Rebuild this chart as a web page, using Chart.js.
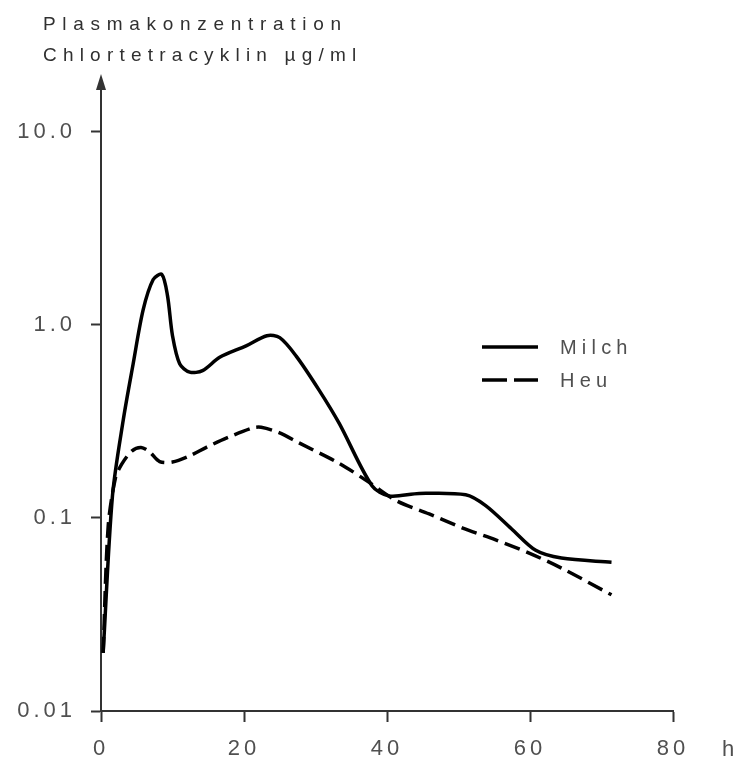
<!DOCTYPE html>
<html lang="de">
<head>
<meta charset="UTF-8">
<title>Plasmakonzentration Chlortetracyklin</title>
<script src="https://cdn.jsdelivr.net/npm/chart.js"></script>
<style>
    html, body {
        margin: 0;
        padding: 0;
        background: #ffffff;
        overflow: hidden;
    }
    #wrap {
        position: relative;
        width: 736px;
        height: 761px;
    }
</style>
</head>
<body>
<div id="wrap">
    <canvas id="chart" width="736" height="761"></canvas>
</div>

<script>
    // Werte (Zeit in h, Konzentration in µg/ml)
    const milchHours  = [0.3, 1.6, 3.1, 4.5, 5.9, 7.3, 8.5, 9.3, 10.0, 11.0, 12.4, 14.2, 16.6, 20.3, 23.2, 25.0, 27.3, 30.5, 33.3, 37.9, 40.3, 44.5, 51.0, 53.8, 57.4, 60.8, 64.4, 71.4];
    const milchValues = [0.02, 0.13, 0.32, 0.63, 1.2, 1.72, 1.83, 1.42, 0.88, 0.63, 0.57, 0.58, 0.68, 0.78, 0.88, 0.86, 0.69, 0.46, 0.31, 0.147, 0.13, 0.134, 0.132, 0.116, 0.088, 0.068, 0.062, 0.059];

    const heuHours  = [0.3, 1.0, 2.0, 2.9, 4.3, 5.6, 6.8, 8.2, 10.0, 12.4, 14.8, 17.6, 21.2, 22.4, 24.9, 27.7, 33.3, 37.5, 41.3, 45.9, 50.5, 55.2, 59.8, 64.4, 71.4];
    const heuValues = [0.02, 0.09, 0.16, 0.19, 0.222, 0.232, 0.22, 0.196, 0.195, 0.21, 0.233, 0.26, 0.293, 0.295, 0.277, 0.245, 0.192, 0.153, 0.123, 0.105, 0.089, 0.077, 0.066, 0.055, 0.04];

    const xTicks = [0, 20, 40, 60, 80];
    const yTicks = [0.01, 0.1, 1, 10];
    const yTickLabels = ['0.01', '0.1', '1.0', '10.0'];
    const titleLines = ['Plasmakonzentration', 'Chlortetracyklin µg/ml'];
    const xUnit = 'h';
    const seriesNames = ['Milch', 'Heu'];

    const FONT = '"Liberation Sans", Arial, sans-serif';
    const AXIS = '#333333';
    const TEXT = '#505050';

    function toPoints(hours, values) {
        return hours.map((h, i) => ({ x: h, y: values[i] }));
    }

    // Titel, Pfeilspitze, Einheit "h" und Legende
    const decorations = {
        id: 'decorations',
        beforeDraw(chart) {
            chart.ctx.letterSpacing = '4px';
        },
        afterDraw(chart) {
            const ctx = chart.ctx;
            const area = chart.chartArea;
            const xs = chart.scales.x;
            ctx.save();

            // Pfeil an der y-Achse
            ctx.fillStyle = AXIS;
            ctx.strokeStyle = AXIS;
            ctx.lineWidth = 2;
            ctx.beginPath();
            ctx.moveTo(area.left, area.top + 2);
            ctx.lineTo(area.left, area.top - 6);
            ctx.stroke();
            ctx.beginPath();
            ctx.moveTo(area.left, area.top - 16);
            ctx.lineTo(area.left - 5, area.top);
            ctx.lineTo(area.left + 5, area.top);
            ctx.closePath();
            ctx.fill();

            // Achsentitel oben links
            ctx.fillStyle = '#303030';
            ctx.font = '19px ' + FONT;
            ctx.letterSpacing = '6.7px';
            ctx.textAlign = 'left';
            ctx.textBaseline = 'alphabetic';
            ctx.fillText(titleLines[0], 43, 30);
            ctx.letterSpacing = '6.2px';
            ctx.fillText(titleLines[1], 43, 61);

            // Einheit an der x-Achse
            ctx.fillStyle = TEXT;
            ctx.font = '22px ' + FONT;
            ctx.letterSpacing = '0px';
            ctx.textBaseline = 'middle';
            ctx.fillText(xUnit, area.right + 49, xs.top + 39);

            // Legende
            const ds = chart.data.datasets;
            const lx = 482, ly = 347, gap = 33;
            ds.forEach((d, i) => {
                const y = ly + i * gap;
                ctx.strokeStyle = d.borderColor;
                ctx.lineWidth = 3.5;
                ctx.setLineDash(d.borderDash && d.borderDash.length ? [25, 7] : []);
                ctx.beginPath();
                ctx.moveTo(lx, y);
                ctx.lineTo(lx + 56, y);
                ctx.stroke();
                ctx.setLineDash([]);
                ctx.fillStyle = TEXT;
                ctx.font = '20px ' + FONT;
                ctx.letterSpacing = '5.2px';
                ctx.textBaseline = 'middle';
                ctx.fillText(d.label, lx + 78, y + 1);
            });

            ctx.restore();
        }
    };

    const config = {
        type: 'line',
        data: {
            datasets: [
                {
                    label: seriesNames[0],
                    data: toPoints(milchHours, milchValues),
                    borderColor: '#000000',
                    borderWidth: 3.5,
                    pointRadius: 0,
                    tension: 0.3,
                    fill: false
                },
                {
                    label: seriesNames[1],
                    data: toPoints(heuHours, heuValues),
                    borderColor: '#000000',
                    borderWidth: 3.5,
                    borderDash: [16, 7],
                    pointRadius: 0,
                    tension: 0.3,
                    fill: false
                }
            ]
        },
        options: {
            responsive: false,
            animation: false,
            devicePixelRatio: 1,
            layout: {
                padding: { top: 90, right: 63, left: 0, bottom: 0 }
            },
            plugins: {
                legend: { display: false },
                title: { display: false },
                tooltip: { enabled: false }
            },
            scales: {
                x: {
                    type: 'linear',
                    min: 0,
                    max: 80,
                    afterBuildTicks: s => { s.ticks = xTicks.map(v => ({ value: v })); },
                    afterFit: s => { s.height = 50; },
                    grid: {
                        drawOnChartArea: false,
                        drawTicks: true,
                        tickLength: 11,
                        tickWidth: 2,
                        color: AXIS
                    },
                    border: { display: true, color: AXIS, width: 2 },
                    ticks: {
                        color: TEXT,
                        font: { family: FONT, size: 22 },
                        padding: 14,
                        maxRotation: 0,
                        autoSkip: false
                    }
                },
                y: {
                    type: 'logarithmic',
                    min: 0.01,
                    max: 16.5,
                    afterBuildTicks: s => { s.ticks = yTicks.map(v => ({ value: v })); },
                    afterFit: s => { s.width = 101; },
                    grid: {
                        drawOnChartArea: false,
                        drawTicks: true,
                        tickLength: 10,
                        tickWidth: 2,
                        color: AXIS
                    },
                    border: { display: true, color: AXIS, width: 2 },
                    ticks: {
                        color: TEXT,
                        font: { family: FONT, size: 22 },
                        padding: 15,
                        autoSkip: false,
                        callback: (value, index) => yTickLabels[index]
                    }
                }
            }
        },
        plugins: [decorations]
    };

    const chart = new Chart(document.getElementById('chart'), config);
</script>
</body>
</html>
